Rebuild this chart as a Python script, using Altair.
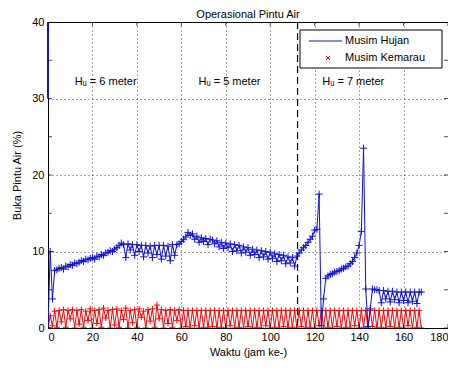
import altair as alt
import pandas as pd

# ---------------- data ----------------
jam = list(range(169))

hujan = [
    0.0, 10.0, 3.8, 7.5, 7.6, 7.8, 7.9, 7.7, 8.1, 8.0,
    8.3, 8.2, 8.5, 8.4, 8.6, 8.8, 8.7, 9.0, 8.9, 9.1,
    9.2, 9.0, 9.4, 9.3, 9.6, 9.5, 9.8, 9.9, 10.1, 10.0,
    10.3, 10.5, 10.8, 11.1, 10.9, 9.2, 11.0, 10.2, 10.9, 9.5,
    10.9, 10.0, 10.8, 9.3, 10.8, 9.8, 10.7, 9.2, 10.8, 9.6,
    10.8, 9.0, 10.8, 9.4, 10.7, 8.8, 10.9, 9.5, 10.9, 11.0,
    11.3, 11.6, 11.9, 12.5, 12.1, 12.3, 11.6, 12.0, 11.2, 11.8,
    11.3, 11.7, 10.9, 11.6, 11.5, 11.0, 11.4, 10.6, 11.2, 10.4,
    11.1, 10.5, 11.0, 10.0, 10.9, 10.1, 10.8, 9.8, 10.6, 9.9,
    10.5, 9.5, 10.3, 9.6, 10.2, 9.2, 10.1, 9.3, 10.0, 9.0,
    9.9, 9.1, 9.7, 8.7, 9.6, 8.8, 9.5, 8.4, 9.3, 8.5,
    9.2, 8.1, 9.4, 9.8, 10.2, 10.5, 10.8, 11.2, 11.6, 12.0,
    12.8, 12.9, 17.5, 0.3, 3.8, 6.5, 6.8, 7.0, 7.1, 7.3,
    7.4, 7.5, 7.7, 7.8, 8.0, 8.1, 8.4, 8.7, 9.2, 9.8,
    10.8, 12.6, 23.5, 5.1, 0.2, 2.5, 5.1, 5.0, 5.0, 4.9,
    3.3, 4.9, 3.8, 4.8, 3.4, 4.8, 3.7, 4.7, 3.3, 4.7,
    3.6, 4.7, 3.3, 4.7, 3.5, 4.7, 3.2, 4.7, 4.7,
]

kemarau = [
    0.0, 1.6, 0.3, 2.2, 0.1, 2.3, 0.8, 2.4, 0.1, 2.3,
    1.2, 2.4, 0.0, 2.3, 0.5, 2.4, 0.1, 2.2, 1.0, 2.5,
    0.0, 2.3, 0.6, 2.4, 0.1, 2.6, 1.3, 2.3, 0.0, 2.4,
    0.4, 2.5, 0.1, 2.3, 1.1, 2.6, 0.0, 2.3, 0.7, 2.4,
    0.1, 2.5, 1.4, 2.2, 0.0, 2.4, 0.9, 2.5, 0.1, 3.0,
    1.2, 2.4, 0.0, 2.3, 0.6, 2.4, 0.1, 2.3, 1.0, 2.4,
    0.0, 2.3, 0.2, 2.3, 0.0, 2.3, 0.3, 2.3, 0.0, 2.3,
    0.1, 2.3, 0.0, 2.3, 0.2, 2.3, 0.0, 2.3, 0.1, 2.3,
    0.0, 2.3, 0.3, 2.3, 0.0, 2.3, 0.1, 2.3, 0.0, 2.3,
    0.2, 2.3, 0.0, 2.3, 0.1, 2.3, 0.0, 2.3, 0.3, 2.3,
    0.0, 2.3, 0.1, 2.3, 0.0, 2.3, 0.2, 2.3, 0.0, 2.3,
    0.1, 2.3, 0.0, 2.3, 0.2, 2.3, 0.0, 2.3, 0.1, 2.3,
    0.0, 2.3, 0.3, 2.3, 0.0, 2.3, 0.1, 2.3, 0.0, 2.3,
    0.2, 2.3, 0.0, 2.3, 0.1, 2.3, 0.0, 2.3, 0.3, 2.3,
    0.0, 2.3, 0.1, 2.3, 0.0, 2.3, 0.2, 2.3, 0.0, 2.3,
    0.1, 2.3, 0.0, 2.3, 0.2, 2.3, 0.0, 2.3, 0.1, 2.3,
    0.0, 2.3, 0.3, 2.3, 0.0, 2.3, 0.1, 2.3, 0.0,
]

x_ticks = [0, 20, 40, 60, 80, 100, 120, 140, 160, 180]
y_ticks = [0, 5, 10, 15, 20, 25, 30, 35, 40]

ann_x = [12.0, 67.7, 123.4]
ann_y = [32.2, 32.2, 32.2]
ann_text = ["H\u1d64 = 6 meter", "H\u1d64 = 5 meter", "H\u1d64 = 7 meter"]

batas_jam = [112.3]           # dashed separator
garis_awal = [0, 30, 40]      # blue stroke on left edge (x, y, y2)

judul = "Operasional Pintu Air"
legend_labels = ["Musim Hujan", "Musim Kemarau"]

# ---------------- styling ----------------
BLUE = "#1010d8"
RED = "#ff0000"
FONT = "Liberation Sans"
PLUS = "M-1,0L1,0M0,-1L0,1"
XSHAPE = "M-1,-1L1,1M-1,1L1,-1"
W, H = 400, 306

df_h = pd.DataFrame({"jam": jam, "buka": hujan})
df_k = pd.DataFrame({"jam": jam, "buka": kemarau})

xs = alt.Scale(domain=[0, 180], nice=False, zero=False)
ys = alt.Scale(domain=[0, 40], nice=False, zero=False)

x_axis = alt.Axis(values=x_ticks, title="Waktu (jam ke-)", grid=True,
                  labelPadding=3, titlePadding=4, format="d")
y_axis = alt.Axis(values=y_ticks, title="Buka Pintu Air (%)", grid=True,
                  labelPadding=4, titlePadding=9, format="d")


def X(field="jam"):
    return alt.X(f"{field}:Q", scale=xs, axis=x_axis)


def Y(field="buka"):
    return alt.Y(f"{field}:Q", scale=ys, axis=y_axis)


line_k = alt.Chart(df_k).mark_line(color=RED, strokeWidth=1, clip=True).encode(x=X(), y=Y())
pts_k = alt.Chart(df_k).mark_point(shape=PLUS, size=36, filled=False, color=RED,
                                   strokeWidth=1, opacity=1, clip=True).encode(x=X(), y=Y())
line_h = alt.Chart(df_h).mark_line(color=BLUE, strokeWidth=1, clip=True).encode(x=X(), y=Y())
pts_h = alt.Chart(df_h).mark_point(shape=PLUS, size=49, filled=False, color=BLUE,
                                   strokeWidth=1, opacity=1, clip=True).encode(x=X(), y=Y())

rule_awal = alt.Chart(pd.DataFrame({"jam": [garis_awal[0]], "buka": [garis_awal[1]], "buka2": [garis_awal[2]]})).mark_rule(
    color=BLUE, strokeWidth=2).encode(x=X(), y=Y(), y2="buka2:Q")

rule_batas = alt.Chart(pd.DataFrame({"jam": batas_jam})).mark_rule(
    color="black", strokeWidth=1.2, strokeDash=[7, 4]).encode(x=X())

ann = alt.Chart(pd.DataFrame({"jam": ann_x, "buka": ann_y, "t": ann_text})).mark_text(
    align="left", baseline="middle", font=FONT, fontSize=11, color="black").encode(
    x=X(), y=Y(), text="t:N")

# inward ticks (MATLAB style), clipped to plot area
dxt = pd.DataFrame({"jam": x_ticks})
dyt = pd.DataFrame({"buka": y_ticks})
tick_b = alt.Chart(dxt).mark_tick(orient="vertical", size=8, thickness=1, color="black", clip=True).encode(
    x=X(), y=alt.datum(0))
tick_t = alt.Chart(dxt).mark_tick(orient="vertical", size=8, thickness=1, color="black", clip=True).encode(
    x=X(), y=alt.datum(40))
tick_l = alt.Chart(dyt).mark_tick(orient="horizontal", size=8, thickness=1, color="black", clip=True).encode(
    y=Y(), x=alt.datum(0))
tick_r = alt.Chart(dyt).mark_tick(orient="horizontal", size=8, thickness=1, color="black", clip=True).encode(
    y=Y(), x=alt.datum(180))

# title as text mark (kept inside the svg)
title_mark = alt.Chart().mark_text(align="center", baseline="alphabetic", font=FONT, fontSize=11,
                                   color="black").encode(
    x=alt.value(W / 2), y=alt.value(-4), text=alt.value(judul))

# legend box
leg_box = alt.Chart().mark_rect(fill="white", stroke="black", strokeWidth=1).encode(
    x=alt.value(252), x2=alt.value(394), y=alt.value(8), y2=alt.value(46))
leg_line = alt.Chart().mark_rule(color=BLUE, strokeWidth=1).encode(
    x=alt.value(261), x2=alt.value(294), y=alt.value(19))
leg_mark = alt.Chart().mark_point(shape=XSHAPE, size=16, filled=False, color=RED, strokeWidth=1, opacity=1).encode(
    x=alt.value(280), y=alt.value(36))
leg_t1 = alt.Chart().mark_text(align="left", baseline="middle", font=FONT, fontSize=11, color="black").encode(
    x=alt.value(297), y=alt.value(19), text=alt.value(legend_labels[0]))
leg_t2 = alt.Chart().mark_text(align="left", baseline="middle", font=FONT, fontSize=11, color="black").encode(
    x=alt.value(297), y=alt.value(36), text=alt.value(legend_labels[1]))

chart = alt.layer(
    line_k, pts_k, line_h, pts_h, rule_awal, rule_batas, ann,
    tick_b, tick_t, tick_l, tick_r, title_mark,
    leg_box, leg_line, leg_mark, leg_t1, leg_t2,
).properties(
    width=W, height=H,
    autosize=alt.AutoSizeParams(type="none"),
    padding={"left": 40, "top": 14, "right": 0, "bottom": 30},
).configure_view(
    stroke="black", strokeWidth=1,
).configure_axis(
    domain=False, ticks=False, tickSize=0,
    labelFont=FONT, labelFontSize=11, labelColor="black",
    titleFont=FONT, titleFontSize=11, titleFontWeight="normal", titleColor="black",
    gridColor="black", gridDash=[1, 3], gridOpacity=0.7, gridWidth=1,
)

chart.save("out.html", embed_options={"renderer": "svg", "actions": False})
